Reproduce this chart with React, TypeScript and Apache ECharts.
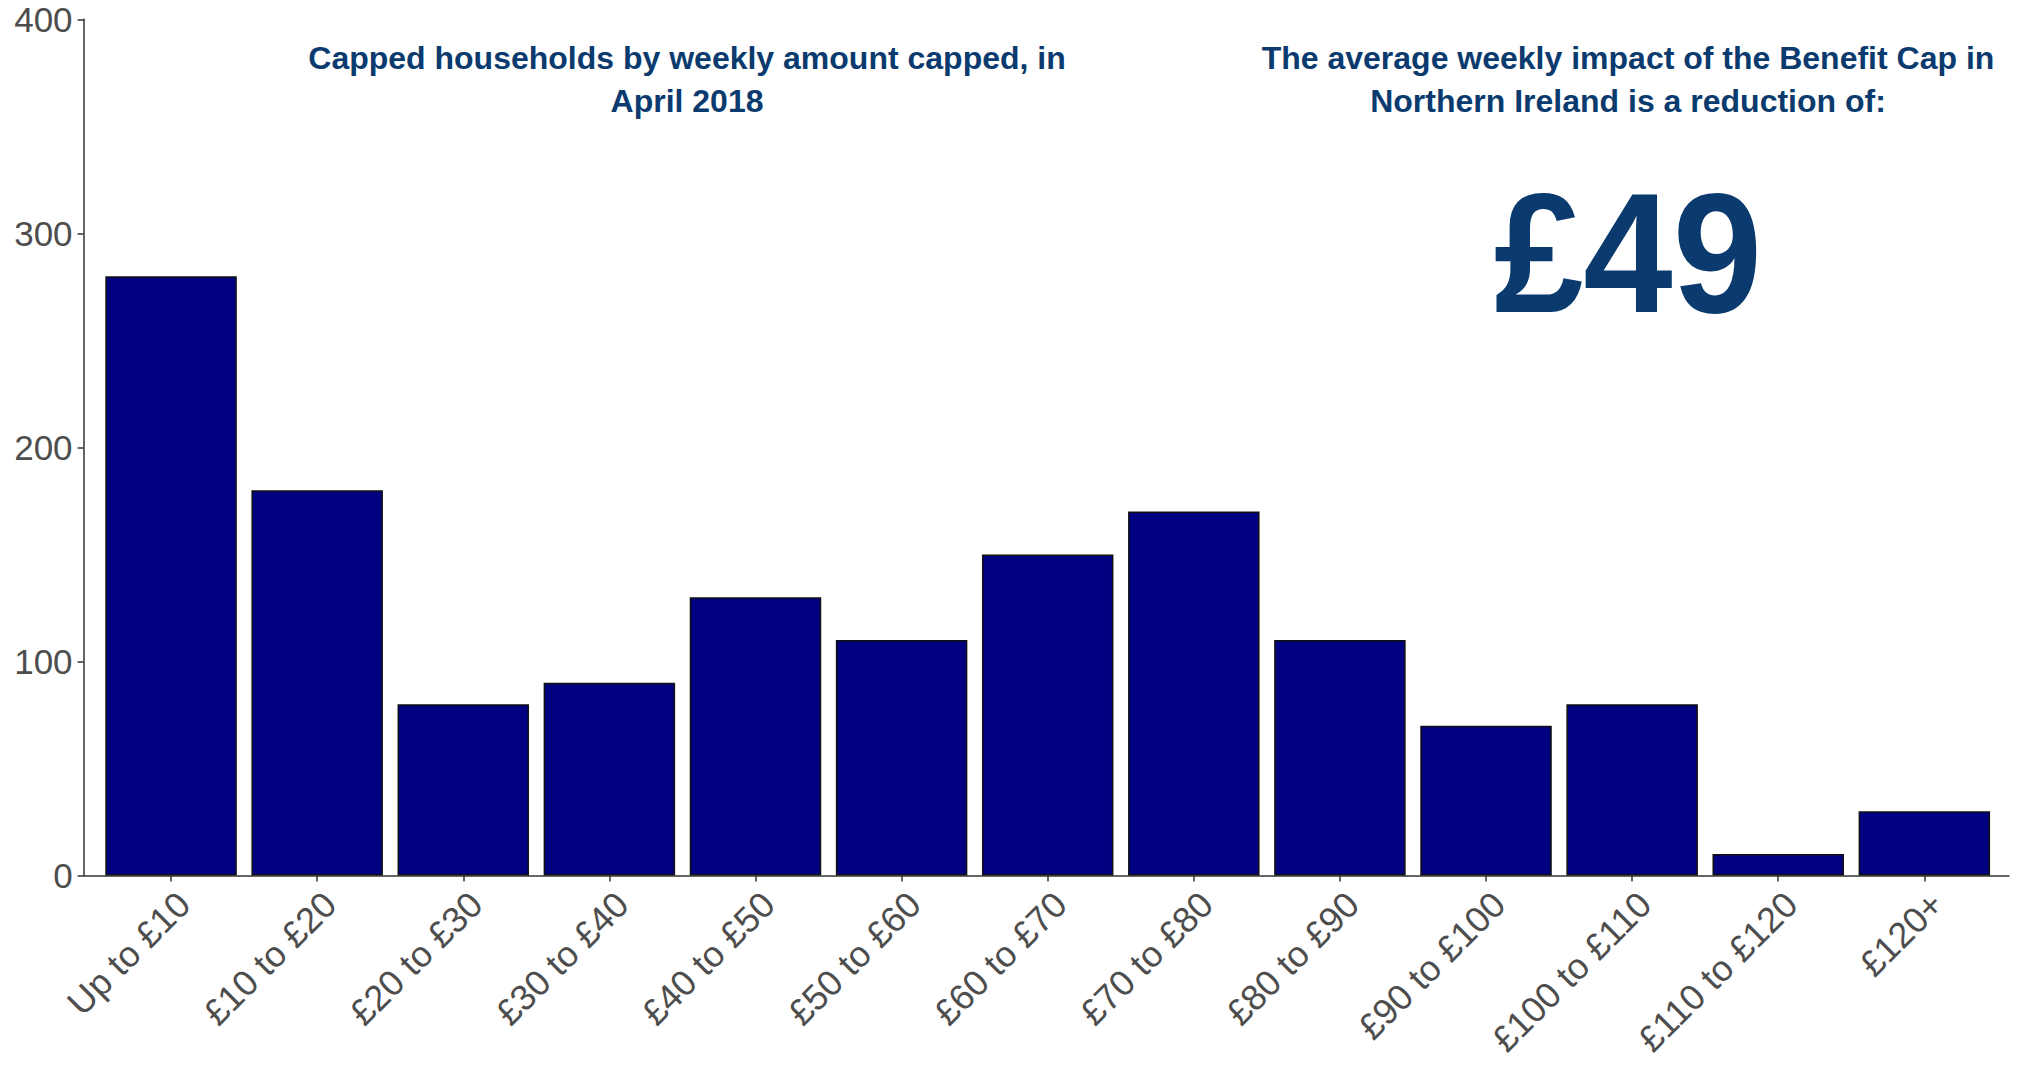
import React, { useEffect, useRef } from "react";
import * as echarts from "echarts";

const categories = [
  "Up to £10", "£10 to £20", "£20 to £30", "£30 to £40", "£40 to £50", "£50 to £60",
  "£60 to £70", "£70 to £80", "£80 to £90", "£90 to £100", "£100 to £110", "£110 to £120", "£120+",
];
const households = [280, 180, 80, 90, 130, 110, 150, 170, 110, 70, 80, 10, 30];
const yTicks = [0, 100, 200, 300, 400];
const titleLeft = "Capped households by weekly amount capped, in\nApril 2018";
const titleRight = "The average weekly impact of the Benefit Cap in\nNorthern Ireland is a reduction of:";
const bigValue = "£49";

const FONT = "'Liberation Sans', Arial, sans-serif";
const BLUE = "#0B3B6E";
const GREY = "#4D4D4D";

export default function App() {
  const ref = useRef<HTMLDivElement>(null);
  useEffect(() => {
    if (!ref.current) return;
    const chart = echarts.init(ref.current, undefined, { renderer: "svg" });
    const top = 19.3;
    const bottom = 1068 - 875.5;
    chart.setOption({
      animation: false,
      backgroundColor: "#ffffff",
      grid: [
        { left: 83.6, right: 8, top, bottom },
        { left: 98, right: 2017 - 1997.4, top, bottom },
      ],
      xAxis: [
        {
          type: "value", gridIndex: 0, min: 0, max: 1,
          axisLine: { show: true, lineStyle: { color: "#333333", width: 1.5 } },
          axisTick: { show: false }, axisLabel: { show: false }, splitLine: { show: false },
        },
        {
          type: "category", gridIndex: 1, data: categories,
          axisLine: { show: false },
          axisTick: { show: true, alignWithLabel: true, length: 6, lineStyle: { color: "#333333", width: 1.5 } },
          axisLabel: {
            rotate: 45, fontSize: 36, color: GREY, fontFamily: FONT, margin: 10, interval: 0,
            verticalAlign: "top",
          },
        },
      ],
      yAxis: [
        {
          type: "value", gridIndex: 0, min: yTicks[0], max: yTicks[yTicks.length - 1], interval: 100,
          axisLine: { show: true, lineStyle: { color: "#333333", width: 1.5 } },
          axisTick: { show: true, length: 6, lineStyle: { color: "#333333", width: 1.5 } },
          axisLabel: { fontSize: 35, color: GREY, fontFamily: FONT, margin: 11 },
          splitLine: { show: false },
        },
        {
          type: "value", gridIndex: 1, min: 0, max: 400, show: false,
        },
      ],
      series: [
        {
          type: "bar", xAxisIndex: 1, yAxisIndex: 1, data: households, barWidth: "90%",
          itemStyle: { color: "#000080", borderColor: "#111111", borderWidth: 1.5 },
        },
      ],
      graphic: [
        {
          type: "text", x: 687, y: 79,
          style: {
            text: titleLeft, fill: BLUE, fontFamily: FONT, fontWeight: "bold", fontSize: 32,
            lineHeight: 43, textAlign: "center", textVerticalAlign: "middle",
          },
        },
        {
          type: "text", x: 1628, y: 79,
          style: {
            text: titleRight, fill: BLUE, fontFamily: FONT, fontWeight: "bold", fontSize: 32,
            lineHeight: 43, textAlign: "center", textVerticalAlign: "middle",
          },
        },
        {
          type: "text", x: 1628, y: 253, scaleX: 0.945,
          style: {
            text: bigValue, fill: BLUE, fontFamily: FONT, fontWeight: "bold", fontSize: 170,
            textAlign: "center", textVerticalAlign: "middle",
          },
        },
      ],
    });
    return () => chart.dispose();
  }, []);
  return (
    <div
      ref={ref}
      style={{ position: "absolute", left: 0, top: 0, width: 2017, height: 1068 }}
    />
  );
}
